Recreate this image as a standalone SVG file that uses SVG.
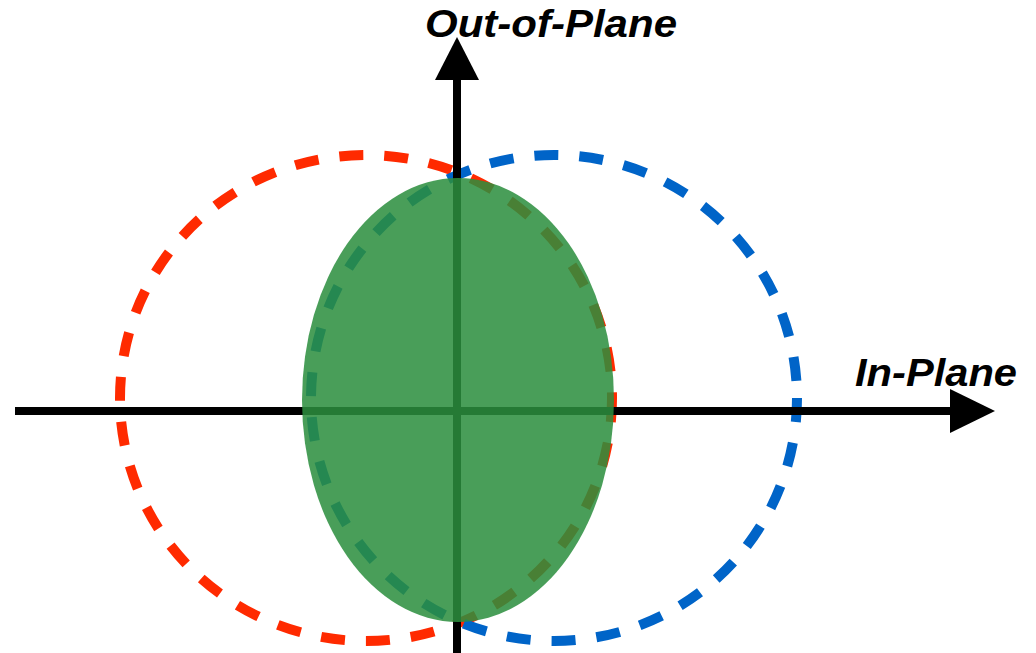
<svg xmlns="http://www.w3.org/2000/svg" width="1036" height="653" viewBox="0 0 1036 653">
<style>
.dash{fill:none;stroke-width:10;stroke-dasharray:24 21}
.axis{stroke:#000;stroke-width:8;fill:none}
.lbl{font-family:"Liberation Sans",Arial,sans-serif;font-weight:bold;font-style:italic;font-size:38px;fill:#000}
</style>
<rect width="1036" height="653" fill="#fff"/>
<g id="red-ellipse"><ellipse class="dash" cx="366" cy="398" rx="246" ry="243" stroke="#ff2a00"/></g>
<g id="blue-ellipse"><ellipse class="dash" cx="554" cy="398" rx="243" ry="243" stroke="#0064c8"/></g>
<g id="connectors">
<line class="axis" x1="15" y1="411" x2="952" y2="411"/>
<polygon points="995,411 950,389 950,433" fill="#000"/>
<line class="axis" x1="457" y1="653" x2="457" y2="78"/>
<polygon points="457,37 435,80 479,80" fill="#000"/>
</g>
<g id="green-ellipse"><ellipse cx="458" cy="400" rx="156" ry="222" fill="#2b8e3e" fill-opacity="0.86"/></g>
<g id="label-out"><text class="lbl" x="425" y="37" textLength="252" lengthAdjust="spacingAndGlyphs">Out-of-Plane</text></g>
<g id="label-in"><text class="lbl" x="855" y="386" textLength="162" lengthAdjust="spacingAndGlyphs">In-Plane</text></g>
</svg>
